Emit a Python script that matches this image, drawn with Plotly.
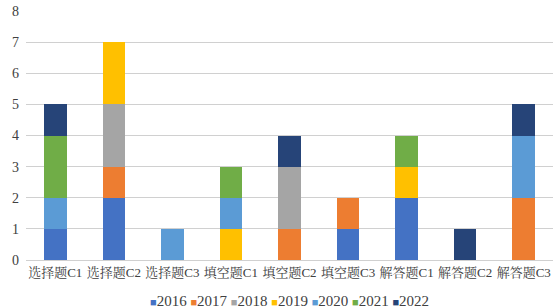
import plotly.graph_objects as go

categories = ["选择题C1", "选择题C2", "选择题C3", "填空题C1", "填空题C2",
              "填空题C3", "解答题C1", "解答题C2", "解答题C3"]
years = ["2016", "2017", "2018", "2019", "2020", "2021", "2022"]
colors = ["#4472C4", "#ED7D31", "#A5A5A5", "#FFC000", "#5B9BD5", "#70AD47", "#264478"]

v2016 = [1, 2, 0, 0, 0, 1, 2, 0, 0]
v2017 = [0, 1, 0, 0, 1, 1, 0, 0, 2]
v2018 = [0, 2, 0, 0, 2, 0, 0, 0, 0]
v2019 = [0, 2, 0, 1, 0, 0, 1, 0, 0]
v2020 = [1, 0, 1, 1, 0, 0, 0, 0, 2]
v2021 = [2, 0, 0, 1, 0, 0, 1, 0, 0]
v2022 = [1, 0, 0, 0, 1, 0, 0, 1, 1]
series = [v2016, v2017, v2018, v2019, v2020, v2021, v2022]

FONT = "Liberation Serif, 'Times New Roman', 'Noto Serif CJK SC', 'Noto Sans CJK SC', serif"

fig = go.Figure()
for name, vals, col in zip(years, series, colors):
    fig.add_trace(go.Bar(x=categories, y=vals, name=name,
                         marker=dict(color=col, line=dict(width=0)),
                         showlegend=False))

legend_text = " ".join(
    f"<span style='color:{c};font-size:11px'>■</span>{y}" for y, c in zip(years, colors)
)
fig.add_annotation(text=legend_text, xref="paper", yref="paper",
                   x=0.5, y=-0.165, xanchor="center", yanchor="middle",
                   showarrow=False, font=dict(family=FONT, size=15, color="#404040"))

fig.update_layout(
    width=554, height=308,
    margin=dict(l=26, r=1, t=11, b=48),
    barmode="stack", bargap=0.615,
    plot_bgcolor="white", paper_bgcolor="white",
    font=dict(family=FONT, size=13, color="#404040"),
)
fig.update_xaxes(showgrid=False, showline=True, linecolor="#D0D0D0", linewidth=1,
                 ticks="", tickfont=dict(size=13, color="#404040"))
fig.update_yaxes(range=[0, 8], dtick=1, showgrid=True, gridcolor="#D0D0D0", gridwidth=1,
                 zeroline=False, showline=False, ticks="",
                 tickfont=dict(size=14, color="#404040"), ticklabelstandoff=6)

fig.write_html("out.html", config={"displayModeBar": False},
               post_script="document.body.style.margin='0';")
